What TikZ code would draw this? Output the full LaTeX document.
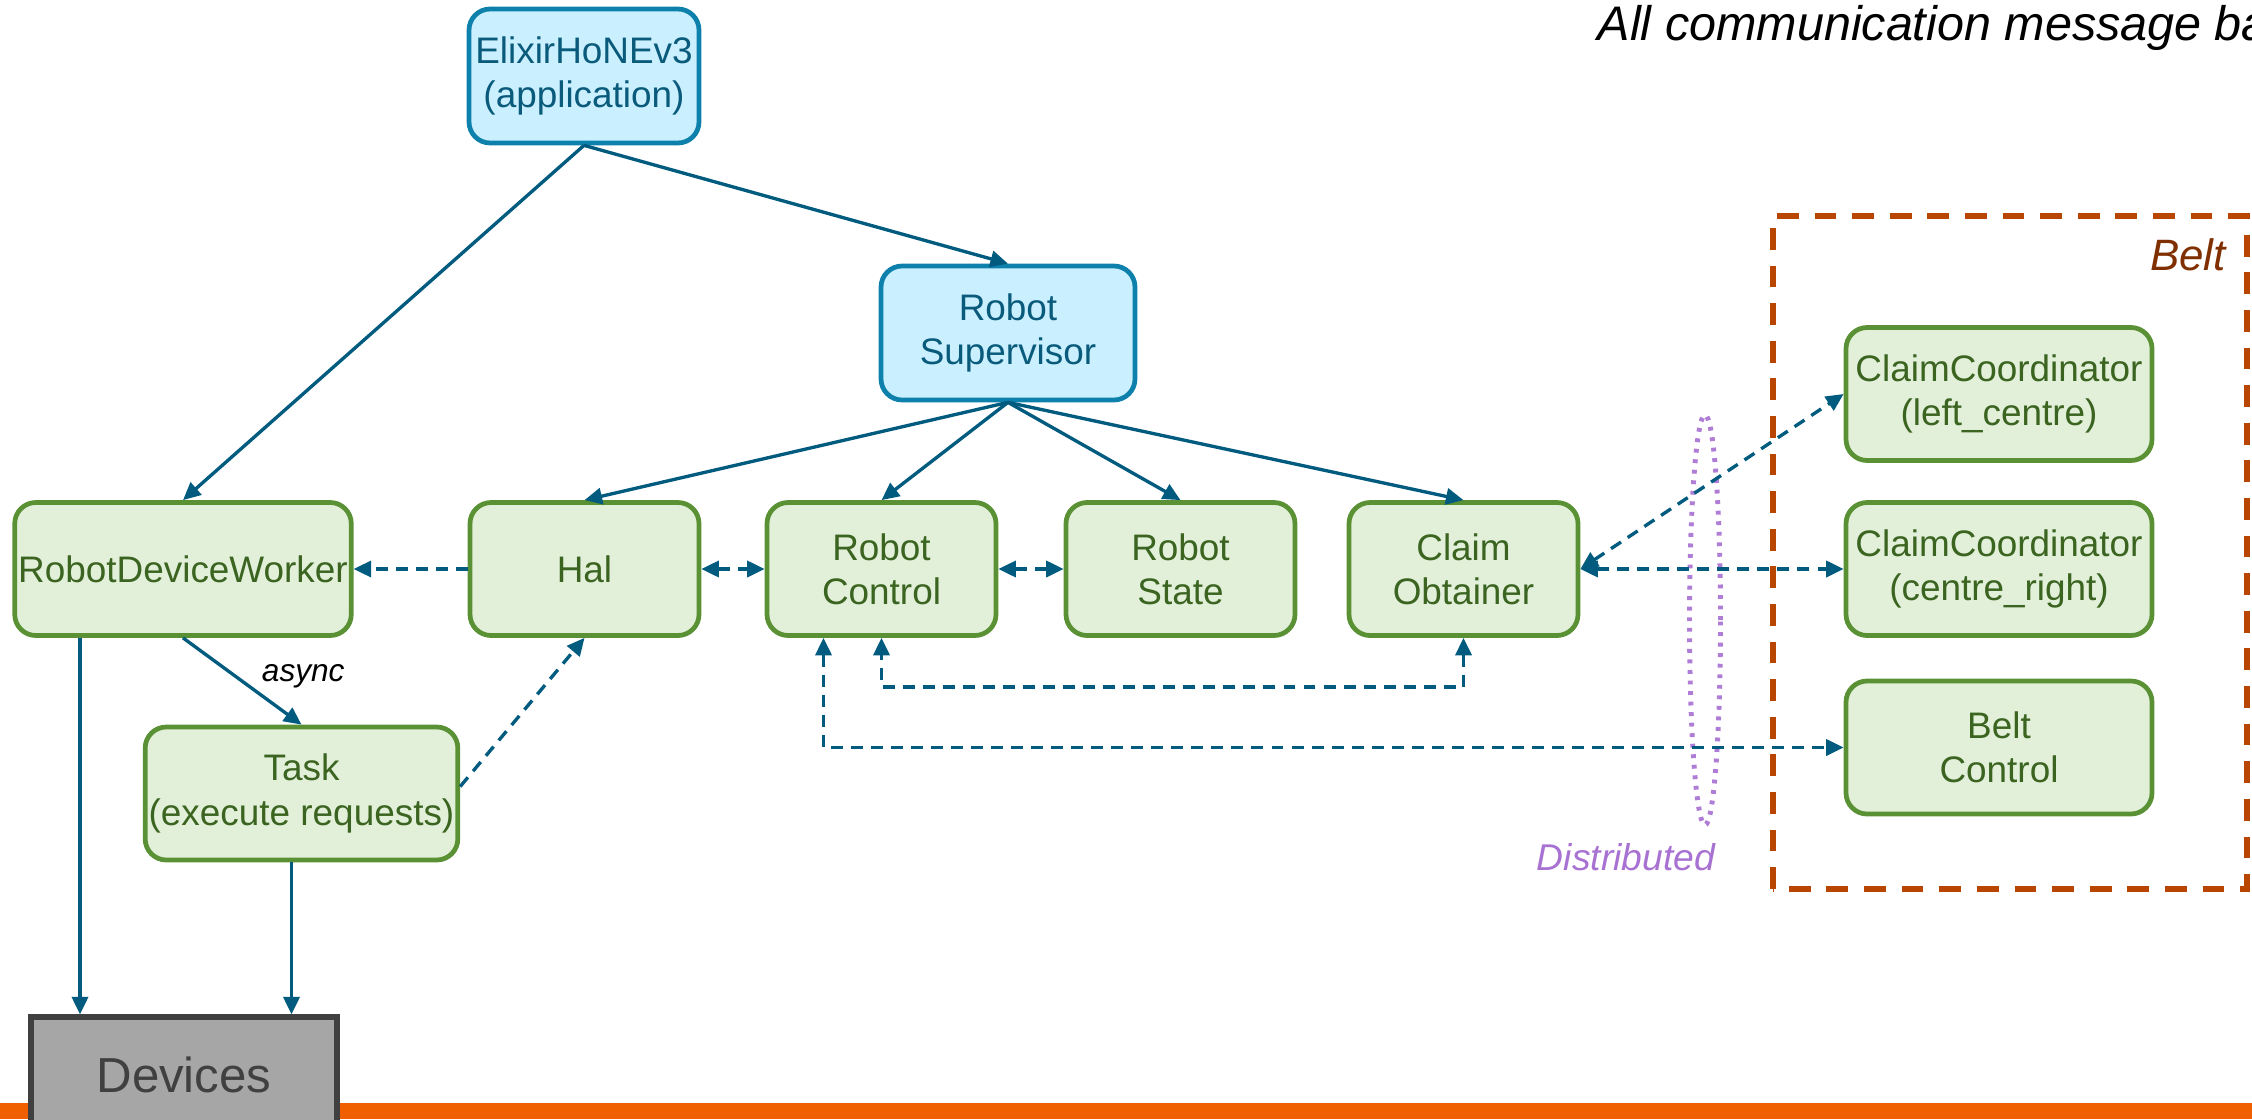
\documentclass[tikz,border=0pt]{standalone}
\usepackage{fontspec}
\setmainfont{Liberation Sans}
\usetikzlibrary{arrows.meta,positioning}
\definecolor{linkblue}{HTML}{005B7F}
\definecolor{appedge}{HTML}{0E80AC}
\definecolor{appfill}{HTML}{CAF0FF}
\definecolor{apptext}{HTML}{0A5B7B}
\definecolor{procedge}{HTML}{5A9134}
\definecolor{procfill}{HTML}{E2F0D9}
\definecolor{proctext}{HTML}{3B6421}
\definecolor{beltedge}{HTML}{B84600}
\definecolor{belttext}{HTML}{7F2F00}
\definecolor{distpurple}{HTML}{B07DD6}
\definecolor{distviolet}{HTML}{A872D2}
\definecolor{devfill}{HTML}{A6A6A6}
\definecolor{devedge}{HTML}{404040}
\definecolor{barorange}{HTML}{F06000}
\tikzset{
  boxfont/.style   = {font=\fontsize{10.5}{12.6}\selectfont},
  appbox/.style    = {draw=appedge, fill=appfill, text=apptext, line width=1.35pt,
                      rounded corners=6pt, align=center, inner sep=1pt,
                      minimum width=2.3cm, minimum height=1.34cm, boxfont},
  procbox/.style   = {draw=procedge, fill=procfill, text=proctext, line width=1.35pt,
                      rounded corners=6pt, align=center, inner sep=1pt,
                      minimum width=2.29cm, minimum height=1.33cm, boxfont},
  devbox/.style    = {draw=devedge, fill=devfill, text=devedge, line width=1.5pt,
                      minimum width=3.06cm, minimum height=1.16cm,
                      font=\fontsize{14}{16}\selectfont},
  link/.style      = {-{Triangle[length=5pt,width=4.6pt]}, linkblue, line width=0.95pt},
  msg/.style       = {link, dash pattern=on 3.4pt off 2.3pt},
  msgboth/.style   = {msg, {Triangle[length=5pt,width=4.6pt]}-{Triangle[length=5pt,width=4.6pt]}},
  beltframe/.style = {draw=beltedge, line width=1.45pt, dash pattern=on 6.2pt off 4.5pt},
  distring/.style  = {draw=distpurple, line width=1.4pt, dash pattern=on 1.1pt off 1.9pt},
  tag/.style       = {inner sep=0pt, font=\itshape}
}
\begin{document}
\begin{tikzpicture}[x=1cm,y=1cm]
  \useasboundingbox (0,0) rectangle (22.52,11.19);
  \fill[barorange] (0,0) rectangle (22.52,0.16);
  \node[tag,anchor=base west,font=\fontsize{13.8}{16}\selectfont\itshape] (note)
       at (15.97,10.78) {All communication message ba};
  % belt side
  \draw[beltframe] (17.73,2.30) rectangle (22.47,9.03);
  \node[tag,text=belttext,font=\fontsize{12.5}{14}\selectfont\itshape] (beltname)
       at (21.88,8.64) {Belt};
  \draw[distring] (17.05,4.99) ellipse [x radius=0.155, y radius=2.05];
  \node[tag,text=distviolet,font=\fontsize{10.6}{12}\selectfont\itshape] (distname)
       at (16.26,2.62) {Distributed};
  % processes
  \node[appbox] (app) at (5.84,10.43) {ElixirHoNEv3\\(application)};
  \node[appbox,minimum width=2.54cm] (sup) at (10.08,7.86) {Robot\\Supervisor};
  \node[procbox,minimum width=3.34cm] (rdw) at (1.83,5.50) {RobotDeviceWorker};
  \node[procbox] (hal)   at (5.845,5.50)  {Hal};
  \node[procbox] (ctl)   at (8.815,5.50)  {Robot\\Control};
  \node[procbox] (state) at (11.805,5.50) {Robot\\State};
  \node[procbox] (obt)   at (14.635,5.50) {Claim\\Obtainer};
  \node[procbox,minimum width=3.07cm] (task) at (3.015,3.255) {Task\\(execute requests)};
  \node[procbox,minimum width=3.06cm] (ccl)  at (19.99,7.25)  {ClaimCoordinator\\(left\_centre)};
  \node[procbox,minimum width=3.06cm] (ccr)  at (19.99,5.50)  {ClaimCoordinator\\(centre\_right)};
  \node[procbox,minimum width=3.06cm] (belt) at (19.99,3.715) {Belt\\Control};
  \node[devbox] (dev) at (1.84,0.44) {Devices};
  % supervision
  \draw[link] (app.south) -- (rdw.north);
  \draw[link] (app.south) -- (sup.north);
  \foreach \dst in {hal,ctl,state,obt}
    \draw[link] (sup.south) -- (\dst.north);
  \draw[link] (rdw.south) -- (task.north)
        node[midway,tag,anchor=west,xshift=0.18cm,yshift=0.05cm,text=black,
             font=\fontsize{9}{10}\selectfont\itshape]{async};
  \draw[link] ([xshift=-1.03cm]rdw.south) -- ([xshift=-1.03cm]rdw.south |- dev.north);
  \draw[link] ([xshift=-1mm]task.south) -- ([xshift=-1mm]task.south |- dev.north);
  % messages
  \draw[msg] (hal) -- (rdw);
  \draw[msgboth] (hal) -- (ctl);
  \draw[msgboth] (ctl) -- (state);
  \draw[msg] ([yshift=0.07cm]task.east) -- (hal.south);
  \draw[msgboth] (obt.south) -- ++(0,-0.49) -| (ctl.south);
  \draw[msgboth] ([xshift=-0.58cm]ctl.south) |- (belt.west);
  \draw[msgboth] (obt.east) -- (ccr.west);
  \draw[msgboth] (obt.east) -- (ccl.west);
\end{tikzpicture}
\end{document}
